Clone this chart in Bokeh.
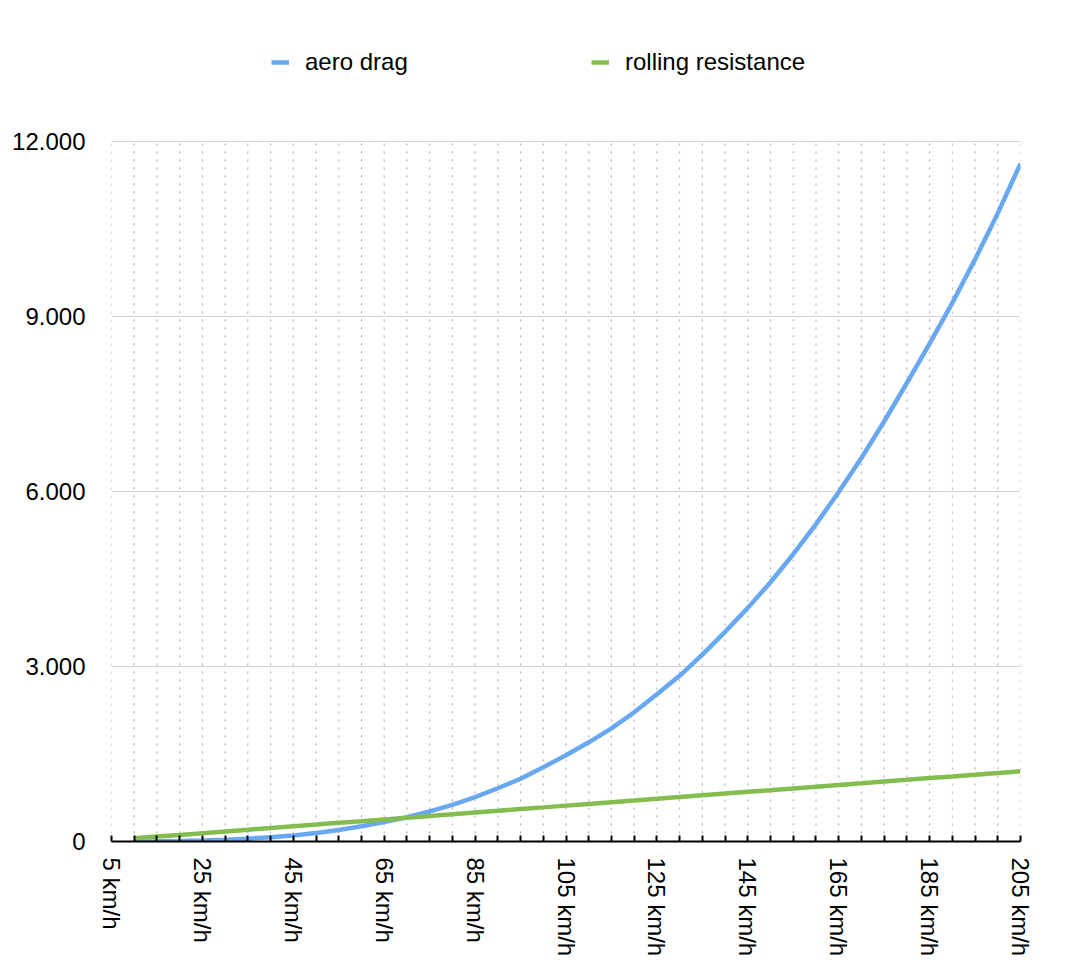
import math
from bokeh.plotting import figure
from bokeh.models import (Range1d, FixedTicker, Legend, LegendItem, ColumnDataSource)
from bokeh.embed import file_html
from bokeh.resources import INLINE

# ---- data ----
speed_kmh = [10, 15, 20, 25, 30, 35, 40, 45, 50, 55,
             60, 65, 70, 75, 80, 85, 90, 95, 100, 105,
             110, 115, 120, 125, 130, 135, 140, 145, 150, 155,
             160, 165, 170, 175, 180, 185, 190, 195, 200, 205]
aero_drag = [1, 4, 9, 18, 31, 49, 73, 104, 145, 198,
             260, 335, 415, 515, 628, 762, 913, 1076, 1274, 1480,
             1700, 1940, 2215, 2525, 2840, 3205, 3595, 4005, 4445, 4925,
             5440, 5990, 6575, 7200, 7860, 8534, 9234, 9979, 10769, 11620]
rolling_resistance = [55, 84, 113, 143, 172, 202, 231, 261, 290, 320,
                      349, 379, 408, 438, 467, 497, 526, 556, 585, 615,
                      644, 674, 703, 733, 762, 792, 821, 851, 880, 910,
                      939, 969, 998, 1028, 1057, 1087, 1116, 1146, 1175, 1205]

x_ticks = list(range(5, 206, 5))
x_label_ticks = [5, 25, 45, 65, 85, 105, 125, 145, 165, 185, 205]
x_labels = ["5 km/h", "25 km/h", "45 km/h", "65 km/h", "85 km/h", "105 km/h",
            "125 km/h", "145 km/h", "165 km/h", "185 km/h", "205 km/h"]
y_ticks = [0, 3000, 6000, 9000, 12000]
y_labels = ["0", "3.000", "6.000", "9.000", "12.000"]

FONT = "Liberation Sans"
BLUE = "#68a7f2"
GREEN = "#83bd4d"

# layout: plot area 909 x 700 px for 0..12000, with legend room above inside the frame
PLOT_H = 700
TOP_ROOM = 141
FRAME_H = PLOT_H + TOP_ROOM
Y_MAX = y_ticks[-1]
y_end = Y_MAX * FRAME_H / PLOT_H

src = ColumnDataSource(dict(x=speed_kmh, aero=aero_drag, roll=rolling_resistance))

p = figure(frame_width=909, frame_height=FRAME_H, output_backend="svg", toolbar_location=None,
           x_range=Range1d(5, 205), y_range=Range1d(0, y_end),
           min_border_left=111, min_border_right=46,
           min_border_top=0, min_border_bottom=131)
p.outline_line_color = None
p.background_fill_color = "white"
p.border_fill_color = "white"

# dotted vertical grid, limited to the value range 0..12000
p.segment(x0=x_ticks, y0=[0] * len(x_ticks), x1=x_ticks, y1=[Y_MAX] * len(x_ticks),
          line_color="#a5a5a5", line_width=1, line_dash="2 6")

r_aero = p.line("x", "aero", source=src, line_color=BLUE, line_width=4.5)
r_roll = p.line("x", "roll", source=src, line_color=GREEN, line_width=4.5)

# x axis
xa = p.xaxis[0]
xa.ticker = FixedTicker(ticks=x_ticks)
overrides = {t: "" for t in x_ticks}
for t, lab in zip(x_label_ticks, x_labels):
    overrides[t] = lab
xa.major_label_overrides = overrides
xa.major_label_orientation = -math.pi / 2
xa.major_label_text_font = FONT
xa.major_label_text_font_size = "24px"
xa.major_label_text_color = "black"
xa.major_label_standoff = 16
xa.axis_line_color = "black"
xa.axis_line_width = 2
xa.major_tick_line_color = "black"
xa.major_tick_line_width = 2
xa.major_tick_in = 6
xa.major_tick_out = 0
xa.minor_tick_line_color = None

# y axis
ya = p.yaxis[0]
ya.ticker = FixedTicker(ticks=y_ticks)
ya.major_label_overrides = {t: lab for t, lab in zip(y_ticks, y_labels)}
ya.major_label_text_font = FONT
ya.major_label_text_font_size = "24px"
ya.major_label_text_color = "black"
ya.major_label_standoff = 26
ya.axis_line_color = None
ya.major_tick_line_color = None
ya.major_tick_in = 0
ya.major_tick_out = 0
ya.minor_tick_line_color = None

# grids
p.xgrid.grid_line_color = None
p.ygrid.ticker = FixedTicker(ticks=y_ticks)
p.ygrid.grid_line_color = "#d4d4d4"
p.ygrid.grid_line_width = 1

legend = Legend(items=[LegendItem(label="aero drag", renderers=[r_aero]),
                       LegendItem(label="rolling resistance", renderers=[r_roll])],
                orientation="horizontal", location=(160, 765),
                border_line_color=None, background_fill_alpha=0,
                padding=0, margin=0, spacing=46,
                glyph_width=18, glyph_height=24, label_standoff=16,
                label_width=240, label_height=24,
                label_text_font=FONT, label_text_font_size="24px",
                label_text_color="black")
p.add_layout(legend)

open("out.html", "w").write(file_html(p, INLINE))
